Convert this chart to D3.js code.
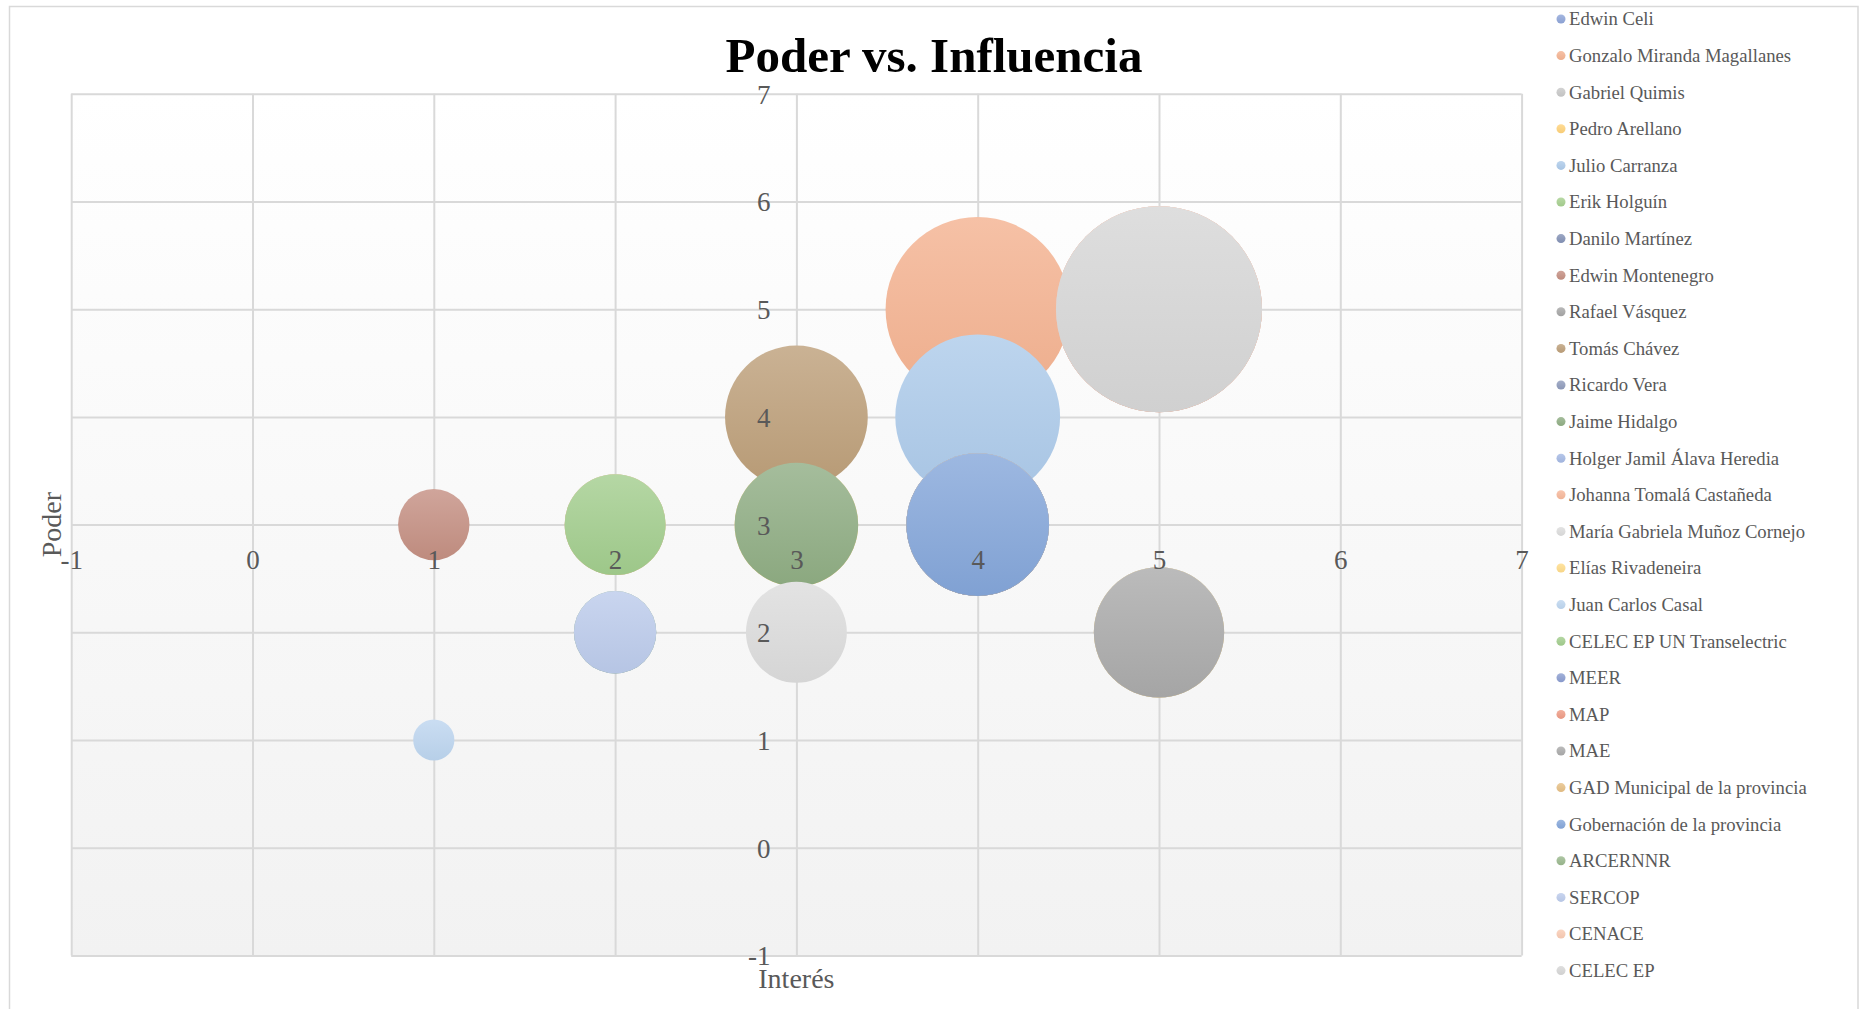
<!DOCTYPE html>
<html><head><meta charset="utf-8">
<script src="https://cdn.jsdelivr.net/npm/d3@7"></script>
<style>html,body{margin:0;padding:0;background:#fff;} svg{display:block;}</style>
</head><body>
<svg id="chart" width="1861" height="1009"></svg>
<script>
// ---------- data ----------
const stakeholders = [
  "Edwin Celi","Gonzalo Miranda Magallanes","Gabriel Quimis","Pedro Arellano","Julio Carranza",
  "Erik Holguín","Danilo Martínez","Edwin Montenegro","Rafael Vásquez","Tomás Chávez",
  "Ricardo Vera","Jaime Hidalgo","Holger Jamil Álava Heredia","Johanna Tomalá Castañeda",
  "María Gabriela Muñoz Cornejo","Elías Rivadeneira","Juan Carlos Casal","CELEC EP UN Transelectric",
  "MEER","MAP","MAE","GAD Municipal de la provincia","Gobernación de la provincia","ARCERNNR",
  "SERCOP","CENACE","CELEC EP"
];
const interest   = [4,4,5,3,4, 2,4,1,5,3, 4,3,2,2,3, 5,1,2,4,5, 5,4,4,2,2, 5,5];
const power      = [3,5,5,3,4, 3,3,3,2,4, 3,3,2,3,2, 2,1,3,3,5, 2,3,3,2,2, 5,5];
const bubbleSize = [12,20,25,9,16, 6,12,3,10,12, 12,9,4,6,6, 10,1,6,12,25, 10,12,12,4,4, 25,25];
const xTicks = [-1,0,1,2,3,4,5,6,7];
const yTicks = [-1,0,1,2,3,4,5,6,7];
const chartTitle = "Poder vs. Influencia";
const xTitle = "Interés";
const yTitle = "Poder";

// ---------- styles ----------
const palette = [
  "#8ea5d8","#f4b290","#c8c8c8","#ffd27a","#accaea",
  "#a6cf8f","#8391b5","#c48f82","#a6a6a6","#bd9f79",
  "#8e9bbb","#8fad83","#a5b9e4","#f6b79a","#dcdcdc",
  "#ffdc8a","#bdd5ef","#a2cd8d","#8b9dd0","#ee9b85",
  "#aaaaaa","#e6bf84","#84a6da","#9ab88d","#bccbeb",
  "#f9cbb3","#d6d6d6"
];
const FONT = "'Liberation Serif','Times New Roman',serif";
const TXT = "#595959";
const GRID = "#d9d9d9";

const svg = d3.select("#chart");
const plot = {left:71.2, right:1521.6, top:93.8, bottom:955.4};

const x = d3.scaleLinear().domain([-1,7]).range([plot.left, plot.right]);
const y = d3.scaleLinear().domain([-1,7]).range([plot.bottom, plot.top]);
const r = d3.scaleSqrt().domain([0,25]).range([0,103]);

const defs = svg.append("defs");
const bg = defs.append("linearGradient").attr("id","plotbg").attr("x1",0).attr("y1",0).attr("x2",0).attr("y2",1);
bg.append("stop").attr("offset","0%").attr("stop-color","#ffffff");
bg.append("stop").attr("offset","100%").attr("stop-color","#f2f2f2");

palette.forEach((c,i)=>{
  const g = defs.append("linearGradient").attr("id","bg"+i).attr("x1",0).attr("y1",0).attr("x2",0).attr("y2",1);
  g.append("stop").attr("offset","0%").attr("stop-color", d3.interpolateRgb(c,"#ffffff")(0.2));
  g.append("stop").attr("offset","100%").attr("stop-color", d3.interpolateRgb(c,"#000000")(0.03));
});

// chart border
svg.append("rect").attr("x",9.5).attr("y",6.5).attr("width",1848.5).attr("height",1010)
  .attr("fill","#fff").attr("stroke",GRID).attr("stroke-width",1.5);

// plot background
svg.append("rect").attr("x",plot.left).attr("y",plot.top)
  .attr("width",plot.right-plot.left).attr("height",plot.bottom-plot.top)
  .attr("fill","url(#plotbg)");

// gridlines via axes
const gx = svg.append("g").attr("transform",`translate(0,${plot.bottom})`)
  .call(d3.axisBottom(x).tickValues(xTicks).tickSize(-(plot.bottom-plot.top)).tickFormat(""));
const gy = svg.append("g").attr("transform",`translate(${plot.left},0)`)
  .call(d3.axisLeft(y).tickValues(yTicks).tickSize(-(plot.right-plot.left)).tickFormat(""));
[gx,gy].forEach(g=>{
  g.select(".domain").remove();
  g.selectAll("line").attr("stroke",GRID).attr("stroke-width",2);
});

// bubbles
const data = stakeholders.map((n,i)=>({name:n, x:interest[i], y:power[i], s:bubbleSize[i], i}));
svg.append("g").selectAll("circle").data(data).join("circle")
  .attr("cx",d=>x(d.x)).attr("cy",d=>y(d.y)).attr("r",d=>r(d.s))
  .attr("fill",d=>`url(#bg${d.i})`);

// tick labels (axes crossing at 3,3)
const fmt = d => String(d);
const ax = svg.append("g").attr("transform",`translate(0,${y(3)})`)
  .call(d3.axisBottom(x).tickValues(xTicks).tickSize(0).tickFormat(fmt));
ax.select(".domain").remove();
ax.selectAll("text").attr("y",35).attr("dy","0.35em")
  .attr("font-family",FONT).attr("font-size",27).attr("fill",TXT);

const ay = svg.append("g").attr("transform",`translate(${x(3)},0)`)
  .call(d3.axisLeft(y).tickValues(yTicks).tickSize(0).tickFormat(fmt));
ay.select(".domain").remove();
ay.selectAll("text").attr("x",-26).attr("dy","0.35em")
  .attr("font-family",FONT).attr("font-size",27).attr("fill",TXT);

// title
svg.append("text").attr("x",934).attr("y",71.5).attr("text-anchor","middle")
  .attr("font-family",FONT).attr("font-weight","bold").attr("font-size",49).attr("fill","#000")
  .text(chartTitle);

// axis titles
svg.append("text").attr("x",x(3)).attr("y",988).attr("text-anchor","middle")
  .attr("font-family",FONT).attr("font-size",28).attr("fill",TXT).text(xTitle);
svg.append("text").attr("transform",`translate(61,${y(3)}) rotate(-90)`).attr("text-anchor","middle")
  .attr("font-family",FONT).attr("font-size",28).attr("fill",TXT).text(yTitle);

// legend
const lg = svg.append("g");
const items = lg.selectAll("g").data(data).join("g")
  .attr("transform",(d,i)=>`translate(1561,${19+i*36.6})`);
items.append("circle").attr("r",4.5).attr("fill",d=>`url(#bg${d.i})`);
items.append("text").attr("x",8).attr("y",6.3)
  .attr("font-family",FONT).attr("font-size",18.7).attr("fill",TXT).text(d=>d.name);
</script>
</body></html>
